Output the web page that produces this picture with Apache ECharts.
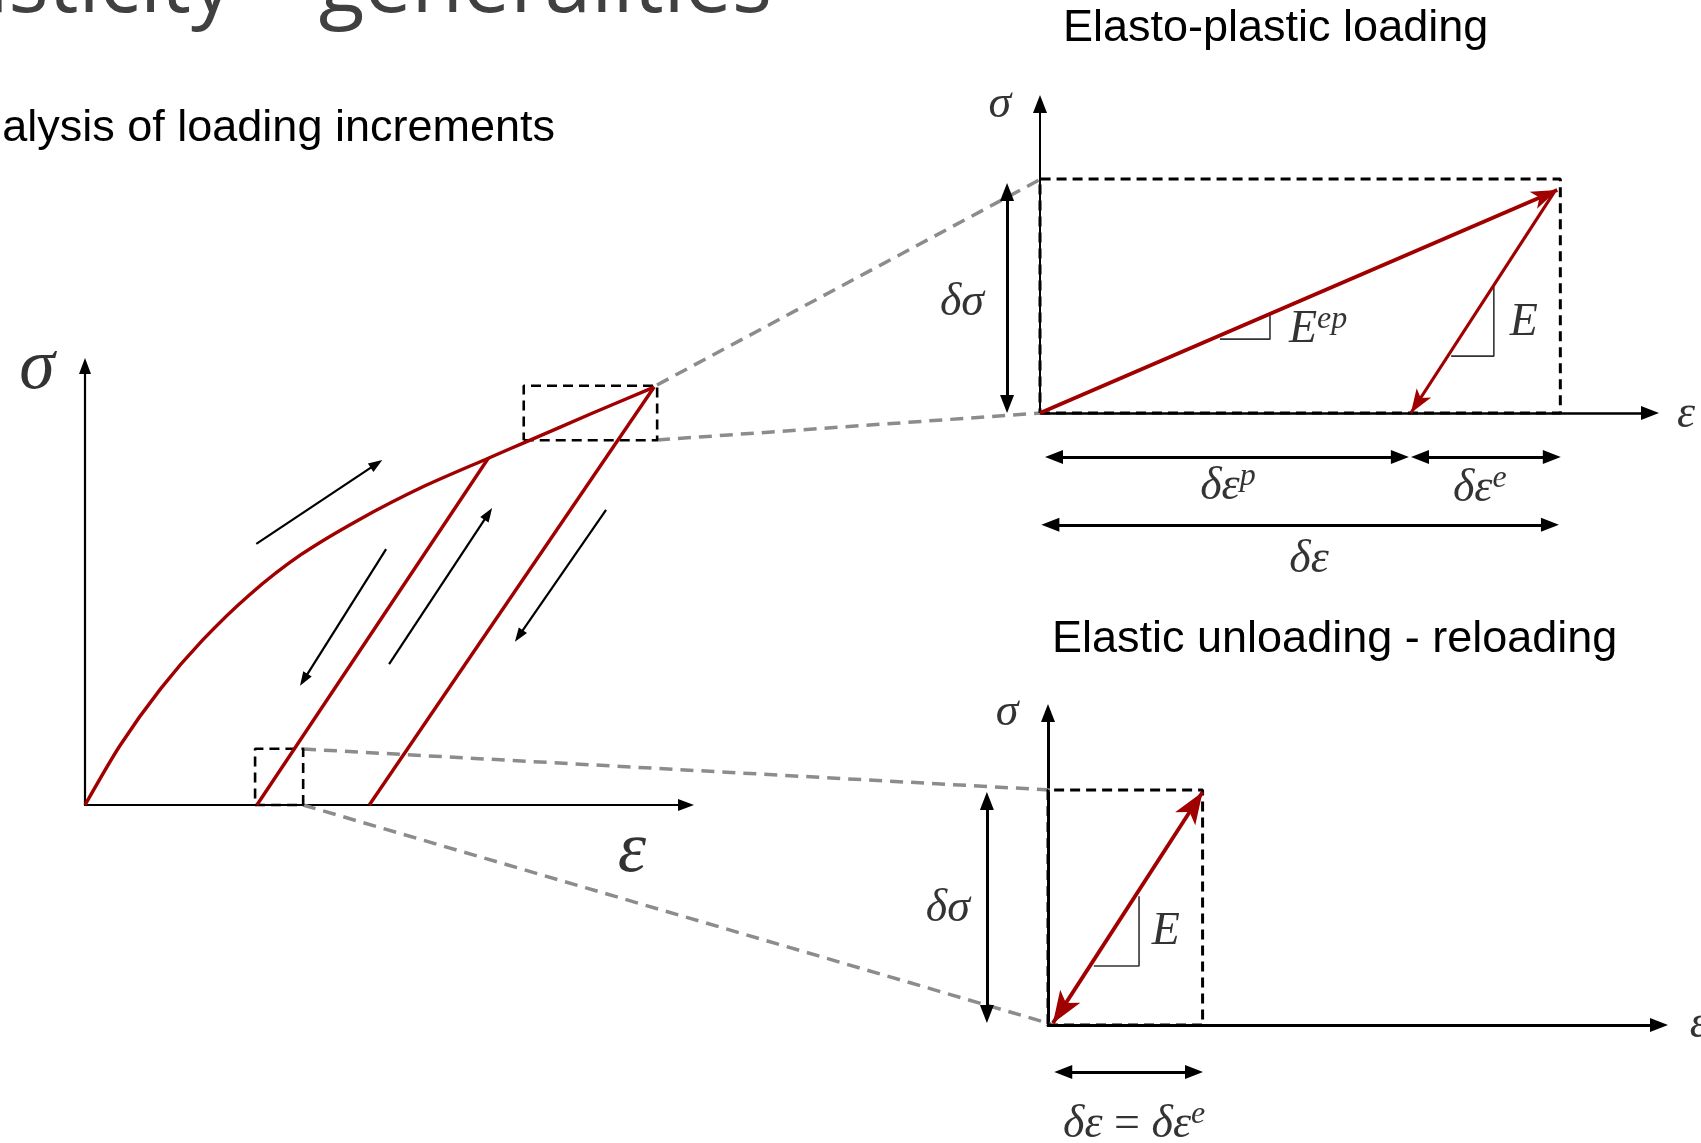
<!DOCTYPE html>
<html><head><meta charset="utf-8">
<script src="https://cdn.jsdelivr.net/npm/echarts/dist/echarts.min.js"></script>
<style>html,body{margin:0;padding:0;background:#fff}#c{width:1701px;height:1143px}</style>
</head><body><div id="c"></div>
<script>
// ---------- data (diagram units: 0..100 per sub-diagram axis) ----------
// main stress-strain diagram
const mainCurve = [[0,0],[5.8,13.5],[12.6,26.5],[19.6,37.6],[27.3,47.8],[35.8,56.9],[45.6,65.0],[56.4,72.6],[67.1,79.0],[73.2,82.6],[84.0,89.0],[94.7,95.2]];
const unload1 = [[67.1,79.0],[28.6,0]];
const unload2 = [[94.7,95.2],[47.3,0]];
const smallBox = [[28.3,0],[36.3,0],[36.3,12.8],[28.3,12.8],[28.3,0]];
const bigBox = [[73.0,83.1],[95.2,83.1],[95.2,95.5],[73.0,95.5],[73.0,83.1]];
const mainArrows = [[[28.5,59.5],[48.5,77.7]],[[50.1,58.3],[36.4,28.5]],[[50.6,32.1],[67.1,66.3]],[[86.7,67.2],[72.2,38.5]]];
// elasto-plastic loading (top right)
const trRect = [[0,0],[85.3,0],[85.3,75.7],[0,75.7],[0,0]];
const trLoad = [[0,0],[84.8,72.2]];
const trUnload = [[84.3,71.5],[60.8,0]];
const trCornerEp = [[29.5,23.9],[37.7,23.9],[37.7,31.7]];
const trCornerE = [[67.4,18.4],[74.4,18.4],[74.4,41.4]];
const trDims = [[[-5.4,2.9],[-5.4,71.5]],[[2.3,-14.2],[59.0,-14.2]],[[62.3,-14.2],[83.9,-14.2]],[[1.7,-36.2],[83.6,-36.2]]];
// elastic unloading - reloading (bottom right)
const brRect = [[0,0],[25.3,0],[25.3,75.3],[0,75.3],[0,0]];
const brArrow = [[0.8,0.6],[25.3,74.7]];
const brCorner = [[7.5,18.9],[14.9,18.9],[14.9,41.3]];
const brDims = [[[-10.0,3.5],[-10.0,71.8]],[[2.5,-15.1],[23.9,-15.1]]];
// zoom connectors (page units)
const connectors = [[[657,385],[1041,179]],[[657,440],[1041,413]],[[303,749],[1051,790]],[[303,805],[1051,1024]]];
// labels
const mainLabels = [{t:'{B|σ}',at:[-8.0,99.3]},{t:'{B|ε}',at:[91.0,-10.7]}];
const trLabels = [
  {t:'{m|σ}',at:[-6.6,99.7]},{t:'{m|ε}',at:[105.9,-0.6]},
  {t:'{m|δσ}',at:[-12.8,35.6]},{t:'{m|E}{s|ep}',at:[45.6,26.9]},{t:'{m|E}',at:[79.3,29.1]},
  {t:'{m|δε}{s|p}',at:[30.8,-23.9]},{t:'{m|δε}{s|e}',at:[72.1,-24.6]},{t:'{m|δε}',at:[44.1,-47.6]}
];
const brLabels = [
  {t:'{m|σ}',at:[-6.7,100]},{t:'{m|ε}',at:[106.5,0]},
  {t:'{m|E}',at:[19.3,29.8]},{t:'{m|δσ}',at:[-16.4,37.2]},
  {t:'{m|δε }{u|=}{m| δε}{s|e}',at:[14.1,-32]}
];
const titles = ['Plasticity – generalities','Analysis of loading increments','Elasto-plastic loading','Elastic unloading - reloading'];

// ---------- styles ----------
const RED = '#a00000';
const SERIF = 'Liberation Serif';
const SANS = 'Liberation Sans';
const RICH = {
  m:{fontFamily:SERIF,fontStyle:'italic',fontSize:46,lineHeight:52,color:'#000'},
  s:{fontFamily:SERIF,fontStyle:'italic',fontSize:32,lineHeight:24,verticalAlign:'top',color:'#000'},
  u:{fontFamily:SERIF,fontSize:46,lineHeight:52,color:'#000'},
  B:{fontFamily:SERIF,fontStyle:'italic',fontSize:72,lineHeight:76,color:'#000'}
};

function poly(data, gi, color, width, type, extra){
  return Object.assign({type:'line',xAxisIndex:gi,yAxisIndex:gi,data:data,showSymbol:false,symbol:'none',
    clip:false,silent:true,lineStyle:{color:color,width:width,type:type||'solid'},z:3}, extra||{});
}
function arrows(list, gi, color, width, syms, size, z){
  return {type:'lines',coordinateSystem:'cartesian2d',xAxisIndex:gi,yAxisIndex:gi,clip:false,silent:true,
    symbol:syms,symbolSize:[size,size],lineStyle:{color:color,width:width,opacity:1},z:z||4,
    data:list.map(c=>({coords:c}))};
}
function labels(defs, gi){
  return {type:'scatter',xAxisIndex:gi,yAxisIndex:gi,symbolSize:1,clip:false,silent:true,z:10,
    itemStyle:{color:'rgba(0,0,0,0)'},
    label:{show:true,position:'inside',formatter:p=>p.data.t,rich:RICH},
    data:defs.map(d=>({value:d.at,t:d.t}))};
}
function axPair(gi, w, sym){
  const common = {type:'value',gridIndex:gi,min:0,max:100,axisTick:{show:false},axisLabel:{show:false},splitLine:{show:false},
    axisLine:{show:true,lineStyle:{color:'#000',width:w},symbol:['none','triangle'],symbolSize:sym}};
  return [common, JSON.parse(JSON.stringify(common))];
}
const a0 = axPair(0,2.2,[12,16]), a1 = axPair(1,2.6,[14,18]), a2 = axPair(2,3,[14,18]);
a1[1].axisLine.lineStyle.width = 2;

const titleStyle = {fontFamily:SANS,fontSize:45,fontWeight:'normal',color:'#000',lineHeight:45};
const option = {
  backgroundColor:'#fff',
  animation:false,
  title:[
    {text:titles[0],right:929,top:-54,padding:0,textStyle:{fontFamily:'Open Sans',fontSize:84,fontWeight:'normal',color:'#404040',lineHeight:84}},
    {text:titles[1],right:1146,top:106,padding:0,textStyle:titleStyle},
    {text:titles[2],left:1063,top:6,padding:0,textStyle:titleStyle},
    {text:titles[3],left:1052,top:617,padding:0,textStyle:titleStyle}
  ],
  grid:[
    {left:85,top:366,width:601,height:439,outerBoundsMode:'none'},
    {left:1040,top:104,width:610,height:309,outerBoundsMode:'none'},
    {left:1048,top:713,width:611,height:312,outerBoundsMode:'none'},
    {left:0,top:0,width:1701,height:1143,outerBoundsMode:'none'}
  ],
  xAxis:[a0[0],a1[0],a2[0],{type:'value',gridIndex:3,min:0,max:1701,show:false}],
  yAxis:[a0[1],a1[1],a2[1],{type:'value',gridIndex:3,min:0,max:1143,inverse:true,show:false}],
  series:[
    // connectors
    {type:'lines',coordinateSystem:'cartesian2d',xAxisIndex:3,yAxisIndex:3,clip:false,silent:true,z:1,
      lineStyle:{color:'#8c8c8c',width:3.5,type:[13,8],opacity:1},data:connectors.map(c=>({coords:c}))},
    // main
    poly(smallBox,0,'#000',2.6,[10,6]),
    poly(bigBox,0,'#000',2.6,[10,6]),
    poly(mainCurve,0,RED,3.4,'solid',{smooth:0.25,z:5}),
    poly(unload1,0,RED,3.4,'solid',{z:5}),
    poly(unload2,0,RED,3.4,'solid',{z:5}),
    arrows(mainArrows,0,'#000',2.2,['none','triangle'],[10,14]),
    // top right
    poly(trRect,1,'#000',3,[10,6]),
    poly(trCornerEp,1,'#333',1.6),
    poly(trCornerE,1,'#333',1.6),
    arrows([trLoad],1,RED,3.8,['none','arrow'],[14,26],6),
    arrows([trUnload],1,RED,3.2,['none','arrow'],[13,24],6),
    arrows(trDims,1,'#000',3,['triangle','triangle'],[14,18]),
    // bottom right
    poly(brRect,2,'#000',3,[10,6]),
    poly(brCorner,2,'#333',1.6),
    arrows([brArrow],2,RED,3.8,['arrow','arrow'],[18,32],6),
    arrows(brDims,2,'#000',3,['triangle','triangle'],[14,18]),
    // labels
    labels(mainLabels,0), labels(trLabels,1), labels(brLabels,2)
  ]
};
const chart = echarts.init(document.getElementById('c'),null,{renderer:'canvas'});
chart.setOption(option);
</script></body></html>
